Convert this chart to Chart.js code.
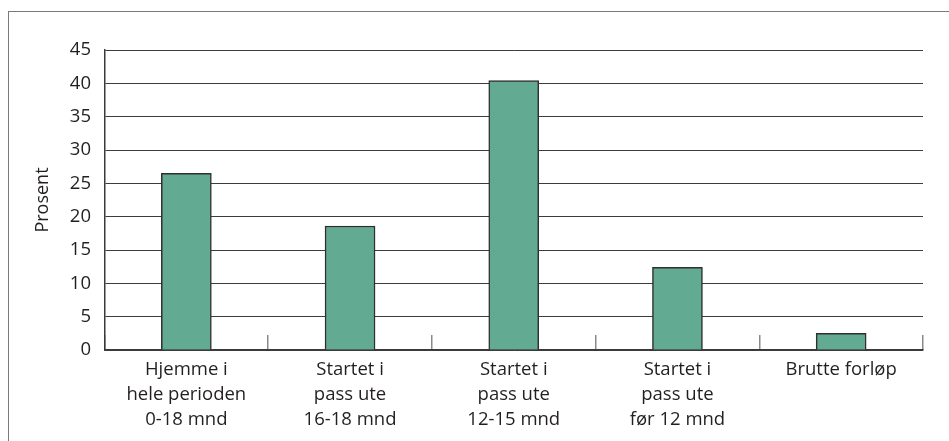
<!DOCTYPE html>
<html>
<head>
<meta charset="utf-8">
<script src="https://cdn.jsdelivr.net/npm/chart.js@4.4.0/dist/chart.umd.min.js"></script>
<style>
  html, body { margin: 0; padding: 0; background: #fff; overflow: hidden; }
  #frame { position: absolute; left: 8px; top: 11px; width: 1000px; height: 500px;
           border-left: 1px solid #7a7a7a; border-top: 1px solid #7a7a7a; }
  #wrap { position: absolute; left: 0; top: 0; width: 949px; height: 441px; }
</style>
</head>
<body>
<div id="frame"></div>
<div id="wrap"><canvas id="chart"></canvas></div>
<script>
  const categories = [
    ['Hjemme i', 'hele perioden', '0-18 mnd'],
    ['Startet i', 'pass ute', '16-18 mnd'],
    ['Startet i', 'pass ute', '12-15 mnd'],
    ['Startet i', 'pass ute', 'før 12 mnd'],
    'Brutte forløp'
  ];
  const values = [26.5, 18.6, 40.4, 12.4, 2.5];
  const yTicks = [0, 5, 10, 15, 20, 25, 30, 35, 40, 45];

  const FONT = "'Open Sans', 'DejaVu Sans', sans-serif";
  const TEXT = '#231f20';

  new Chart(document.getElementById('chart'), {
    type: 'bar',
    data: {
      labels: categories,
      datasets: [{
        data: values,
        backgroundColor: '#62aa92',
        borderColor: '#2f2f2f',
        borderWidth: 1.5,
        barThickness: 50
      }]
    },
    options: {
      responsive: true,
      maintainAspectRatio: false,
      animation: false,
      layout: { padding: { left: 0, right: 26, top: 50, bottom: 0 } },
      plugins: { legend: { display: false }, tooltip: { enabled: false } },
      scales: {
        x: {
          offset: true,
          grid: {
            offset: true,
            drawOnChartArea: false,
            drawTicks: true,
            tickLength: -15,
            color: '#8a8a8a',
            lineWidth: 1.5
          },
          border: { color: '#3a3a3a', width: 1.5 },
          ticks: {
            padding: 22.75,
            maxRotation: 0,
            autoSkip: false,
            color: TEXT,
            font: { family: FONT, size: 18.5, lineHeight: 1.33 }
          },
          afterFit: (s) => { s.height = 91; }
        },
        y: {
          min: 0,
          max: 45,
          afterBuildTicks: (s) => { s.ticks = yTicks.map(v => ({ value: v })); },
          grid: { color: '#3c3c3c', lineWidth: 1, drawTicks: false },
          border: { color: '#3a3a3a', width: 1.5 },
          ticks: {
            padding: 13.5,
            color: TEXT,
            font: { family: FONT, size: 18.5 }
          },
          title: {
            display: true,
            text: 'Prosent',
            color: TEXT,
            padding: { top: 32, bottom: 0 },
            font: { family: FONT, size: 18 }
          },
          afterFit: (s) => { s.width = 104.5; }
        }
      }
    }
  });
</script>
</body>
</html>
